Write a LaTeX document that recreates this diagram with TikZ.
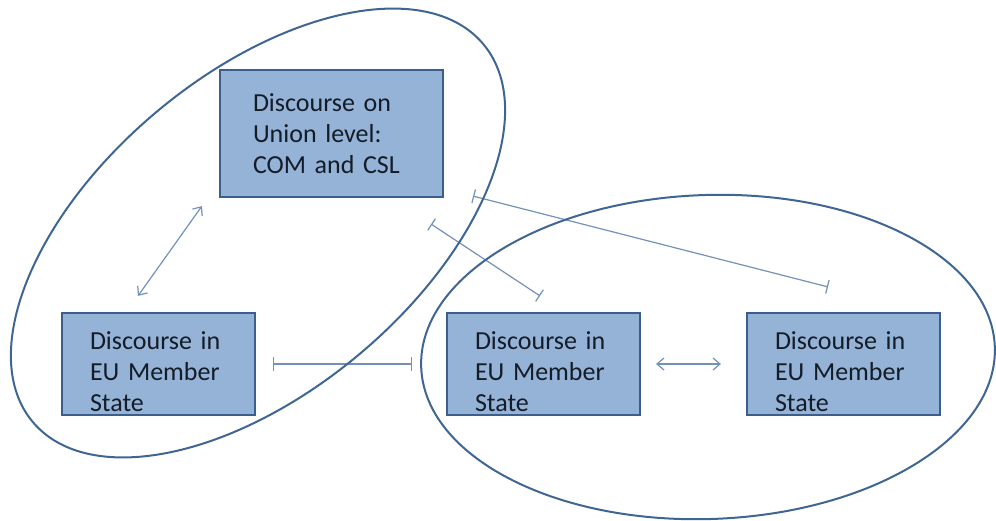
\documentclass[tikz,border=0pt]{standalone}
\usepackage{fontspec}
\setmainfont{Carlito}
\usepackage{xcolor}
\definecolor{boxfill}{HTML}{95B3D7}
\definecolor{boxline}{HTML}{3B5E8C}
\definecolor{ringline}{HTML}{3F6593}
\definecolor{linkline}{HTML}{7391B9}
\definecolor{ink}{HTML}{141C28}
\usetikzlibrary{arrows.meta, positioning, calc}
\newcommand{\lift}{\rule{0pt}{33pt}}

\begin{document}
\begin{tikzpicture}[x=1pt, y=-1pt,
    box/.style={rectangle, draw=boxline, fill=boxfill, line width=2.2pt,
                minimum width=193pt, minimum height=102pt, inner sep=0pt,
                text width=137pt, align=left, text=ink,
                font=\fontsize{26}{31}\selectfont},
    ubox/.style={box, minimum width=223pt, minimum height=127pt, text width=157pt},
    ring/.style={draw=ringline, line width=2pt},
    both/.style={{Straight Barb[length=7pt,width=12pt]}-{Straight Barb[length=7pt,width=12pt]},
                 draw=linkline, line width=1.2pt},
    block/.style={{Bar[width=14pt]}-{Bar[width=14pt]}, draw=linkline, line width=1.2pt}
  ]
  \useasboundingbox (0,0) rectangle (996,520);

  \node[ubox] (union) at (331.5,133.5) {Discourse on\\Union level:\\COM and CSL};

  \node[box] (msA) at (158.5,364) {\lift Discourse in\\EU Member\\State};
  \node[box] (msB) at (543.5,364) {\lift Discourse in\\EU Member\\State};
  \node[box] (msC) at (843.5,364) {\lift Discourse in\\EU Member\\State};

  % free ends of the links
  \coordinate (uA) at ([shift={(-17,8)}]union.south west);
  \coordinate (aU) at ([shift={(-20.5,-16)}]msA.north);
  \coordinate (uB) at ([shift={(-13,26)}]union.south east);
  \coordinate (bU) at ([shift={(-3.5,-16)}]msB.north);
  \coordinate (uC) at ([shift={(29,-2)}]union.south east);
  \coordinate (cU) at ([shift={(-15.5,-25)}]msC.north);

  \draw[both] (aU) -- (uA);
  \draw[block, shorten <=17pt, shorten >=34pt] (msA) -- (msB);
  \draw[both, shorten <=15pt, shorten >=25pt] (msB) -- (msC);
  \draw[block] (uB) -- (bU);
  \draw[block] (uC) -- (cU);

  % the two groups
  \draw[ring, rotate around={40:(258,233)}] (258,233) ellipse [x radius=294, y radius=158];
  \draw[ring, rotate around={2:(708,357)}] (708,357) ellipse [x radius=287, y radius=162];

\end{tikzpicture}
\end{document}
